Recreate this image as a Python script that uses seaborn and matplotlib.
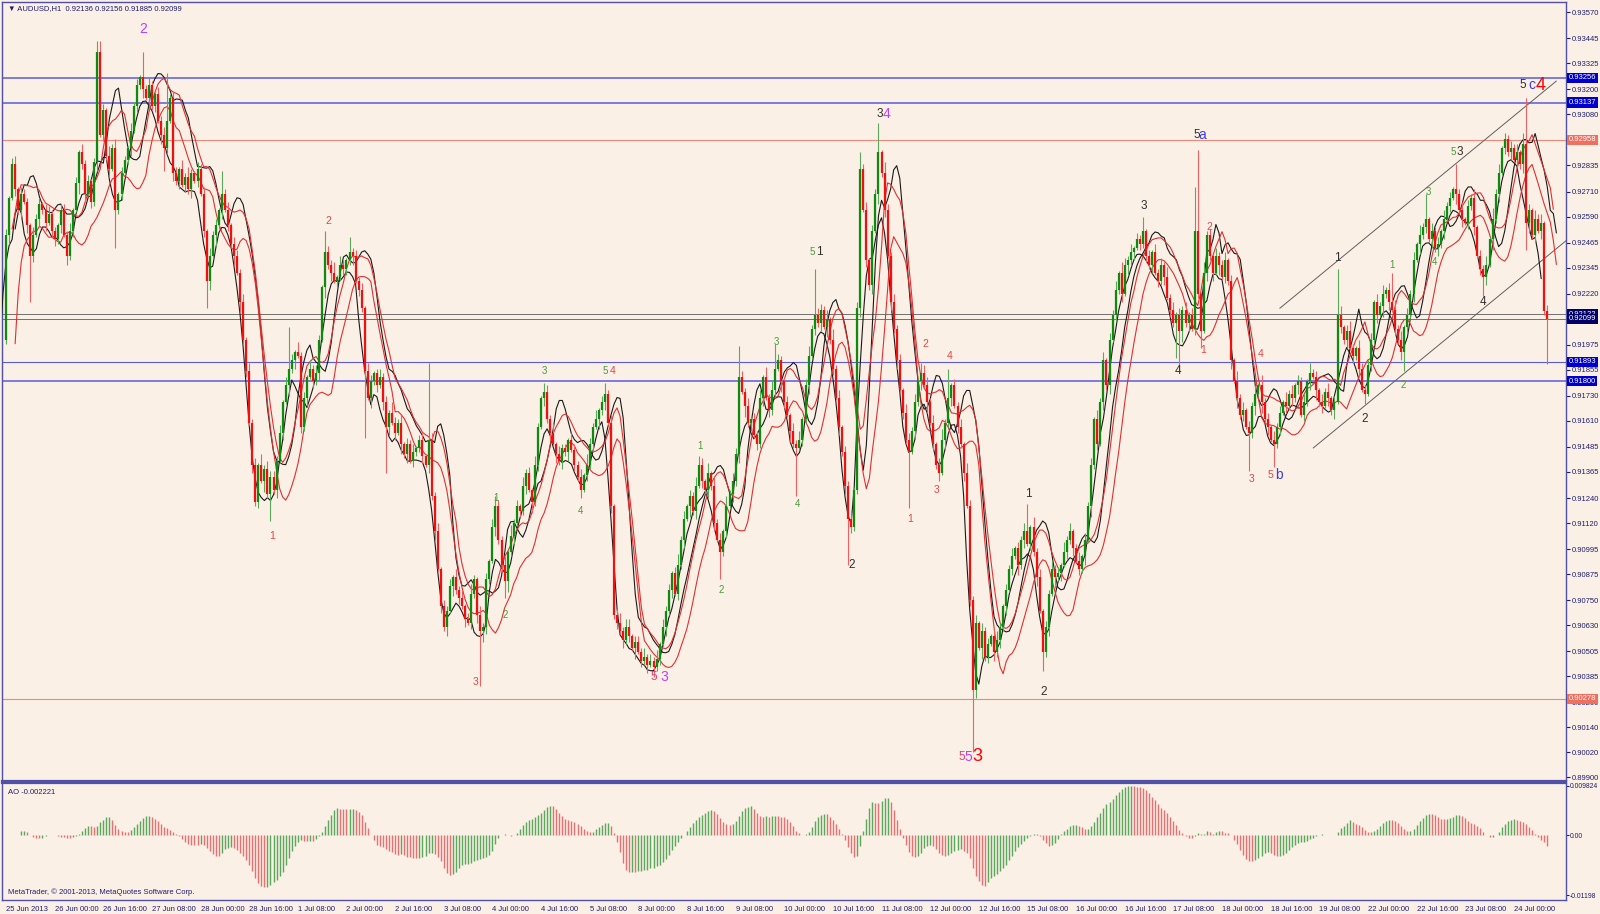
import numpy as np
import pandas as pd
import matplotlib
matplotlib.use("Agg")
import matplotlib.pyplot as plt
import matplotlib.transforms as mtransforms
import seaborn as sns

# hourly closes per trading day (0.0001 price units)
c_25jun = [9250, 9268, 9284, 9272, 9262, 9270, 9266, 9255, 9240, 9250, 9258, 9265, 9262, 9256, 9260, 9252]
c_26jun = [9248, 9255, 9262, 9250, 9240, 9252, 9262, 9275, 9290, 9284, 9270, 9276, 9266, 9285, 9338, 9298, 9310, 9288, 9282, 9292, 9262, 9270, 9280, 9286]
c_27jun = [9292, 9300, 9312, 9322, 9326, 9320, 9316, 9322, 9312, 9318, 9305, 9298, 9292, 9305, 9316, 9280, 9276, 9282, 9274, 9278, 9272, 9280, 9276, 9282]
c_28jun = [9270, 9252, 9228, 9240, 9250, 9255, 9262, 9270, 9262, 9255, 9246, 9240, 9232, 9218, 9200, 9185, 9160, 9140, 9122, 9140, 9132, 9138, 9126, 9134]
c_01jul = [9128, 9142, 9155, 9170, 9178, 9186, 9190, 9194, 9192, 9158, 9172, 9182, 9186, 9180, 9184, 9200, 9225, 9242, 9236, 9232, 9228, 9230, 9236, 9234]
c_02jul = [9238, 9242, 9240, 9228, 9224, 9215, 9185, 9172, 9180, 9184, 9178, 9182, 9170, 9158, 9165, 9160, 9155, 9160, 9150, 9145, 9150, 9142, 9146, 9148]
c_03jul = [9152, 9144, 9140, 9152, 9125, 9108, 9090, 9072, 9062, 9070, 9082, 9086, 9080, 9076, 9072, 9066, 9064, 9078, 9085, 9068, 9060, 9062, 9085, 9094]
c_04jul = [9110, 9120, 9104, 9092, 9084, 9098, 9106, 9112, 9120, 9118, 9130, 9136, 9128, 9122, 9140, 9158, 9172, 9175, 9162, 9155, 9150, 9145, 9142, 9148]
c_05jul = [9146, 9152, 9147, 9140, 9134, 9128, 9135, 9140, 9150, 9158, 9162, 9166, 9170, 9174, 9160, 9120, 9068, 9064, 9060, 9056, 9062, 9058, 9052, 9055]
c_08jul = [9050, 9046, 9048, 9044, 9046, 9043, 9047, 9054, 9062, 9070, 9080, 9088, 9078, 9092, 9104, 9114, 9120, 9125, 9118, 9130, 9140, 9132, 9128, 9136]
c_09jul = [9130, 9112, 9104, 9098, 9108, 9120, 9126, 9132, 9145, 9182, 9175, 9168, 9160, 9162, 9154, 9150, 9172, 9182, 9172, 9166, 9176, 9186, 9190, 9180]
c_10jul = [9170, 9164, 9156, 9150, 9148, 9152, 9162, 9178, 9192, 9205, 9212, 9208, 9214, 9206, 9210, 9200, 9186, 9172, 9158, 9146, 9130, 9114, 9110, 9128]
c_11jul = [9215, 9282, 9262, 9238, 9226, 9252, 9270, 9290, 9280, 9262, 9240, 9218, 9205, 9190, 9176, 9165, 9152, 9146, 9156, 9170, 9180, 9184, 9178, 9170]
c_12jul = [9160, 9150, 9140, 9136, 9152, 9160, 9172, 9178, 9168, 9158, 9150, 9136, 9120, 9075, 9032, 9064, 9052, 9060, 9048, 9054, 9058, 9050, 9056, 9062]
c_15jul = [9072, 9080, 9090, 9096, 9100, 9092, 9104, 9108, 9102, 9110, 9098, 9086, 9070, 9050, 9062, 9078, 9090, 9086, 9088, 9092, 9098, 9104, 9108, 9100]
c_16jul = [9094, 9090, 9096, 9104, 9120, 9140, 9162, 9150, 9170, 9190, 9178, 9200, 9212, 9224, 9232, 9222, 9236, 9238, 9242, 9244, 9248, 9246, 9252, 9240]
c_17jul = [9236, 9242, 9232, 9228, 9236, 9230, 9220, 9214, 9208, 9212, 9204, 9214, 9208, 9212, 9205, 9252, 9222, 9204, 9232, 9250, 9240, 9232, 9240, 9236]
c_18jul = [9230, 9238, 9228, 9190, 9180, 9172, 9164, 9166, 9158, 9155, 9168, 9174, 9178, 9170, 9162, 9158, 9152, 9150, 9158, 9165, 9170, 9168, 9174, 9172]
c_19jul = [9178, 9180, 9164, 9170, 9180, 9184, 9182, 9176, 9170, 9168, 9175, 9172, 9166, 9170, 9212, 9206, 9200, 9204, 9196, 9192, 9196, 9186, 9176, 9174]
c_22jul = [9188, 9200, 9218, 9212, 9216, 9222, 9224, 9218, 9214, 9205, 9200, 9194, 9206, 9212, 9222, 9238, 9246, 9250, 9254, 9258, 9248, 9252, 9244, 9246]
c_23jul = [9252, 9258, 9264, 9268, 9272, 9270, 9262, 9258, 9256, 9264, 9268, 9254, 9240, 9234, 9230, 9236, 9248, 9258, 9270, 9280, 9292, 9296, 9290, 9292]
c_24jul = [9286, 9290, 9284, 9294, 9256, 9262, 9250, 9258, 9252, 9256, 9213.6, 9209.9]
first_open = 9200

# wick lengths (0.0001 units), one digit per hour
wick_up = ["3124132214231342", "213324131423124231524132", "142313242132412331425213",
           "231423152413324142315243", "324142315231424213325142", "142323143124231532413241",
           "231532413231424135214231", "413241523142314213325142", "213324153241322413524413",
           "324132414231352413242315", "142315243132413241524132", "231424135213324152413241",
           "352413241532423143241524", "241352413241532414231342", "132413243152413242315241",
           "241323142413241532413241", "314231524132413241523142", "241315241324152314231524",
           "132415231424132413521432", "231424131524132415231423", "142315241324132415241323",
           "241323142413"]
wick_lo = ["2413231423142413", "324142315241324132415231", "241324152314231424132413",
           "132415241324152314231524", "241315241324132415241323", "324132415231424131524132",
           "231424132415231413241532", "142315241324152314231424", "241324132415241323142315",
           "132415231424132415241324", "241323142415241324132415", "315241324132415231424132",
           "241324152314241324132415", "132415241324132415231424", "241315241324132415241324",
           "132415231424132415241323", "241324132415241323142415", "132415231424152413241324",
           "241324152314241324132415", "132415241324132415231424", "241315241324132415241324",
           "132415231424"]

# long wicks: bar index -> extreme price (0.0001 units)
spike_high_bars = [2, 30, 31, 45, 53, 71, 93, 105, 113, 139, 161, 177, 197, 228, 241, 253, 266, 281, 287,
                   302, 310, 336, 374, 391, 392, 438, 456, 467, 477, 499, 500]
spike_high_vals = [9287, 9343, 9343, 9338, 9328, 9281, 9206, 9252, 9249, 9189, 9125, 9179, 9179, 9144, 9197,
                   9198, 9234, 9290, 9304, 9188, 9186, 9121, 9259, 9273, 9291, 9234, 9232, 9270, 9284, 9299, 9316]
spike_low_bars = [8, 36, 52, 66, 87, 118, 125, 156, 164, 189, 213, 235, 260, 277, 297, 318, 341, 385, 386,
                  393, 409, 417, 447, 460, 486, 500, 507]
spike_low_vals = [9218, 9244, 9281, 9215, 9113, 9153, 9136, 9034, 9076, 9124, 9040, 9085, 9125, 9092, 9119,
                  9002, 9041, 9191, 9185, 9196, 9137, 9139, 9169, 9185, 9221, 9243, 9188.5]

time_labels = ["25 Jun 2013", "26 Jun 00:00", "26 Jun 16:00", "27 Jun 08:00", "28 Jun 00:00", "28 Jun 16:00",
               "1 Jul 08:00", "2 Jul 00:00", "2 Jul 16:00", "3 Jul 08:00", "4 Jul 00:00", "4 Jul 16:00",
               "5 Jul 08:00", "8 Jul 00:00", "8 Jul 16:00", "9 Jul 08:00", "10 Jul 00:00", "10 Jul 16:00",
               "11 Jul 08:00", "12 Jul 00:00", "12 Jul 16:00", "15 Jul 08:00", "16 Jul 00:00", "16 Jul 16:00",
               "17 Jul 08:00", "18 Jul 00:00", "18 Jul 16:00", "19 Jul 08:00", "22 Jul 00:00", "22 Jul 16:00",
               "23 Jul 08:00", "24 Jul 00:00"]

price_ticks = [0.93570, 0.93445, 0.93325, 0.93200, 0.93080, 0.92835, 0.92710, 0.92590, 0.92465, 0.92345,
               0.92220, 0.91975, 0.91855, 0.91730, 0.91610, 0.91485, 0.91365, 0.91240, 0.91120, 0.90995,
               0.90875, 0.90750, 0.90630, 0.90505, 0.90385, 0.90260, 0.90140, 0.90020, 0.89900]
ao_ticks = [0.009824, 0.0, -0.01198]
ao_tick_labels = ["0.009824", "0.00", "-0.01198"]

# horizontal levels
level_prices = [0.93256, 0.93137, 0.92958, 0.92122, 0.92099, 0.91893, 0.91800, 0.90278]
level_kinds = ["blue", "blue", "salmon", "gray", "gray", "blue_thin", "blue", "salmon"]

# channel anchors (bar, price in 0.0001 units)
chan_up_bars, chan_up_vals = [419, 510], [9215, 9324]
chan_lo_bars, chan_lo_vals = [430, 514.5], [9148, 9249]

# wave labels
wave_bars = [45, 87.5, 106, 154.3, 161.2, 164.1, 177, 189.1, 197.2, 199.6, 213.1, 216.4, 228.3, 235.2,
             253.5, 260.3, 265.3, 267.5, 278.2, 287.3, 289.7, 297.4, 302.3, 306.1, 310.3, 314.4, 316.6,
             319.6, 336.3, 341.4, 374.4, 385.6, 391.6, 393.4, 393.9, 395.7, 409.8, 412.7, 415.8, 418.6,
             438, 447, 455.8, 459.7, 467.9, 469.9, 475.9, 478.1, 486, 498.9, 501.9, 504.7]
wave_vals = [9349, 9106, 9257, 9036, 9124, 9068, 9185, 9118, 9185, 9185, 9038, 9038, 9149, 9080,
             9199, 9121, 9242, 9242, 9092, 9308, 9308, 9114, 9198, 9128, 9192, 9000, 9000,
             9000, 9126, 9031, 9264, 9185, 9298, 9298, 9195, 9254, 9133, 9193, 9135, 9135,
             9239, 9162, 9236, 9178, 9271, 9237, 9290, 9290, 9218, 9322, 9322, 9322]
wave_text = ["2", "1", "2", "3", "1", "2", "3", "4", "5", "4", "5", "3", "1", "2",
             "3", "4", "5", "1", "2", "3", "4", "1", "2", "3", "4", "5", "5",
             "3", "1", "2", "3", "4", "5", "a", "1", "2", "3", "4", "5", "b",
             "1", "2", "1", "2", "3", "4", "5", "3", "4", "5", "c", "4"]
wave_kind = ["mag", "red", "red", "red", "grn", "grn", "grn", "grn", "grn", "red", "pink", "mag", "grn", "grn",
             "grn", "grn", "grn", "blk", "blk", "blk", "mag", "red", "red", "red", "red", "pink", "mag",
             "big", "blk", "blk", "blk", "blk", "blk", "blu", "red", "red", "red", "red", "red", "blu",
             "blk", "blk", "grn", "grn", "grn", "grn", "grn", "blk", "blk", "blk", "blu", "big"]

# ---------------- styles ----------------
bg = "#FAF0E6"
navy = "#1e1e6e"
frame = "#5050a8"
small = 5.5
wave_style = {"mag": ("#c040f0", 10), "red": ("#e04848", 7.5), "grn": ("#4a9a3a", 7),
              "pink": ("#e0407a", 8.5), "blk": ("#303030", 8.5), "blu": ("#3c3ce0", 10),
              "big": ("#ff0000", 13)}
level_style = {"blue": ("#5a5ade", 1.1, "#0000cc"), "blue_thin": ("#5a5ade", 0.8, "#0000cc"),
               "salmon": ("#f08878", 0.8, "#f07060"), "gray": ("#707070", 0.7, "#000066")}

sns.set_theme(style="white", rc={"axes.facecolor": bg, "figure.facecolor": bg})
plt.rcParams["font.family"] = ["Liberation Sans", "DejaVu Sans"]

# ---------------- data prep ----------------
days = [c_25jun, c_26jun, c_27jun, c_28jun, c_01jul, c_02jul, c_03jul, c_04jul, c_05jul, c_08jul,
        c_09jul, c_10jul, c_11jul, c_12jul, c_15jul, c_16jul, c_17jul, c_18jul, c_19jul, c_22jul,
        c_23jul, c_24jul]
closes = np.concatenate([np.array(d, dtype=float) for d in days])
n = len(closes)
bars = np.arange(n)
opens = np.r_[first_open, closes[:-1]]


def digits(strs):
    v = [int(ch) for ch in "".join(strs)]
    v = (v + [2] * n)[:n]
    return np.array(v, dtype=float)


highs = np.maximum(opens, closes) + digits(wick_up)
lows = np.minimum(opens, closes) - digits(wick_lo)
for b, v in zip(spike_high_bars, spike_high_vals):
    if b < n:
        highs[b] = max(highs[b], v)
for b, v in zip(spike_low_bars, spike_low_vals):
    if b < n:
        lows[b] = min(lows[b], v)

o, h, l, c = opens / 1e4, highs / 1e4, lows / 1e4, closes / 1e4
hs, ls = pd.Series(h), pd.Series(l)

# ---------------- figure ----------------
fig = plt.figure(figsize=(16, 9.14), dpi=100)
ax = fig.add_axes([2 / 1600, 1 - 781 / 914, 1564 / 1600, 779 / 914])
ax_ao = fig.add_axes([2 / 1600, 1 - 900 / 914, 1564 / 1600, 117 / 914], sharex=ax)
xlim = (-4 / 3.04, 1560 / 3.04)

for a in (ax, ax_ao):
    a.set_facecolor(bg)
    for s in a.spines.values():
        s.set_color(frame)
        s.set_linewidth(1.0)
ax.spines["bottom"].set_linewidth(1.6)
ax_ao.spines["top"].set_linewidth(1.6)

# horizontal levels
for p, k in zip(level_prices, level_kinds):
    lc, lw, _ = level_style[k]
    ax.axhline(p, color=lc, lw=lw, zorder=1)

# channel
ax.plot(chan_up_bars, np.array(chan_up_vals) / 1e4, color="#606060", lw=0.7, zorder=1)
ax.plot(chan_lo_bars, np.array(chan_lo_vals) / 1e4, color="#606060", lw=0.7, zorder=1)

# moving-average envelope lines
ma_specs = [(hs.rolling(5, min_periods=1).mean(), 3, "#1a1a1a"),
            (ls.rolling(5, min_periods=1).mean(), -2, "#1a1a1a"),
            (hs.rolling(8, min_periods=1).mean(), 2, "#e03030"),
            (ls.rolling(8, min_periods=1).mean(), 3, "#e03030")]
for ser, shift, col in ma_specs:
    sns.lineplot(x=bars + shift, y=ser.values, ax=ax, color=col, linewidth=0.8,
                 estimator=None, sort=False, legend=False, zorder=3)

# candles
bull = c >= o
ax.vlines(bars[bull], l[bull], h[bull], color="#5aa85a", lw=0.8, zorder=4)
ax.vlines(bars[~bull], l[~bull], h[~bull], color="#f06060", lw=0.8, zorder=4)
body_lo = np.minimum(o, c)
body_hi = np.maximum(np.maximum(o, c), body_lo + 0.00004)
ax.vlines(bars[bull], body_lo[bull], body_hi[bull], color="#0e8a0e", lw=1.6, zorder=5)
ax.vlines(bars[~bull], body_lo[~bull], body_hi[~bull], color="#f01010", lw=1.6, zorder=5)

# wave labels
for b, v, t, k in zip(wave_bars, wave_vals, wave_text, wave_kind):
    col, fs = wave_style[k]
    ax.text(b, v / 1e4, t, color=col, fontsize=fs, ha="center", va="center", zorder=6)

ax.set_xlim(*xlim)
ax.set_ylim(0.89883, 0.93619)
ax.yaxis.tick_right()
ax.set_yticks(price_ticks)
ax.set_yticklabels([f"{v:.5f}" for v in price_ticks])
ax.tick_params(axis="y", direction="out", length=3, width=0.8, colors=navy, labelsize=small, pad=1.5)
ax.tick_params(axis="x", bottom=False, labelbottom=False)
ax.set_xlabel("")
ax.set_ylabel("")

# boxed level tags
trans = mtransforms.blended_transform_factory(ax.transAxes, ax.transData)
for p, k in zip(level_prices, level_kinds):
    _, _, bc = level_style[k]
    ax.text(1.0017, p, f"{p:.5f}", transform=trans, ha="left", va="center", fontsize=small,
            color="white", clip_on=False, zorder=10,
            bbox=dict(boxstyle="square,pad=0.2", fc=bc, ec="none"))

ax.text(0.004, 0.996, "\u25bc AUDUSD,H1  0.92136 0.92156 0.91885 0.92099", transform=ax.transAxes,
        ha="left", va="top", fontsize=small, color=navy)

# Awesome Oscillator
med = (hs + ls) / 2
ao = med.rolling(5, min_periods=1).mean() - med.rolling(34, min_periods=1).mean()
rising = ao.diff().fillna(0).values > 0
ao_cols = np.where(rising, "#5aa85a", "#e87070")
ax_ao.vlines(bars, 0, ao.values, colors=ao_cols, lw=1.0)
ax_ao.set_ylim(-0.01296, 0.01041)
ax_ao.yaxis.tick_right()
ax_ao.set_yticks(ao_ticks)
ax_ao.set_yticklabels(ao_tick_labels)
ax_ao.tick_params(axis="y", direction="out", length=2, width=0.8, colors=navy, labelsize=4.9, pad=1)
ax_ao.set_xticks(np.arange(len(time_labels)) * 16)
ax_ao.set_xticklabels(time_labels)
for lab in ax_ao.get_xticklabels():
    lab.set_ha("left")
ax_ao.tick_params(axis="x", direction="out", length=3, width=0.8, colors=navy, labelsize=small, pad=1)
ax_ao.set_xlim(*xlim)
ax_ao.text(0.004, 0.95, "AO -0.002221", transform=ax_ao.transAxes, ha="left", va="top",
           fontsize=small, color=navy)
ax_ao.text(0.004, 0.03, "MetaTrader, \u00a9 2001-2013, MetaQuotes Software Corp.", transform=ax_ao.transAxes,
           ha="left", va="bottom", fontsize=small, color=navy)

fig.savefig("out.png", dpi=100, facecolor=bg)
